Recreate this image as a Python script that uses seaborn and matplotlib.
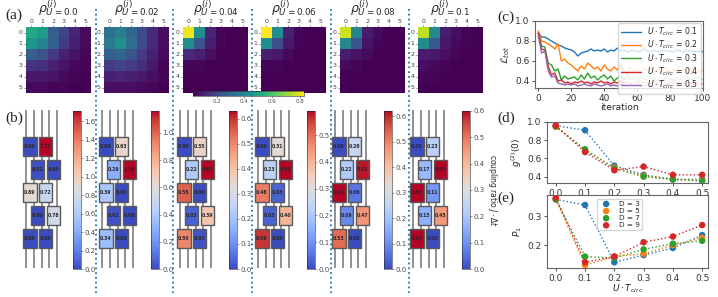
import numpy as np
import pandas as pd
import matplotlib
matplotlib.use('Agg')
import matplotlib.pyplot as plt
import matplotlib.colors as mcolors
import matplotlib.cm as cm
from matplotlib.lines import Line2D
from matplotlib.patches import Rectangle
import seaborn as sns

# ---------------- data ----------------
rho_labels = ['0.0', '0.02', '0.04', '0.06', '0.08', '0.1']

rho_0 = [[0.51, 0.47, 0.27, 0.19, 0.11, 0.05],
         [0.45, 0.39, 0.27, 0.17, 0.10, 0.05],
         [0.27, 0.23, 0.16, 0.10, 0.07, 0.04],
         [0.15, 0.14, 0.10, 0.07, 0.05, 0.04],
         [0.08, 0.08, 0.07, 0.05, 0.04, 0.03],
         [0.05, 0.05, 0.04, 0.04, 0.03, 0.03]]
rho_1 = [[0.33, 0.37, 0.29, 0.21, 0.12, 0.06],
         [0.36, 0.43, 0.31, 0.21, 0.12, 0.06],
         [0.27, 0.29, 0.24, 0.17, 0.10, 0.05],
         [0.17, 0.19, 0.17, 0.13, 0.08, 0.04],
         [0.10, 0.11, 0.10, 0.08, 0.06, 0.04],
         [0.06, 0.06, 0.06, 0.05, 0.04, 0.03]]
rho_2 = [[0.81, 0.42, 0.11, 0.04, 0.03, 0.03],
         [0.42, 0.24, 0.09, 0.04, 0.03, 0.03],
         [0.12, 0.10, 0.06, 0.03, 0.03, 0.03],
         [0.04, 0.04, 0.03, 0.03, 0.03, 0.03],
         [0.03, 0.03, 0.03, 0.03, 0.03, 0.03],
         [0.03, 0.03, 0.03, 0.03, 0.03, 0.03]]
rho_3 = [[0.83, 0.42, 0.10, 0.04, 0.03, 0.03],
         [0.42, 0.22, 0.08, 0.04, 0.03, 0.03],
         [0.10, 0.08, 0.05, 0.03, 0.03, 0.03],
         [0.04, 0.04, 0.03, 0.03, 0.03, 0.03],
         [0.03, 0.03, 0.03, 0.03, 0.03, 0.03],
         [0.03, 0.03, 0.03, 0.03, 0.03, 0.03]]
rho_4 = [[0.77, 0.40, 0.09, 0.05, 0.03, 0.03],
         [0.40, 0.24, 0.07, 0.04, 0.03, 0.03],
         [0.09, 0.07, 0.05, 0.03, 0.03, 0.03],
         [0.05, 0.04, 0.03, 0.03, 0.03, 0.03],
         [0.03, 0.03, 0.03, 0.03, 0.03, 0.03],
         [0.03, 0.03, 0.03, 0.03, 0.03, 0.03]]
rho_5 = [[0.75, 0.41, 0.09, 0.06, 0.04, 0.03],
         [0.41, 0.25, 0.08, 0.05, 0.04, 0.03],
         [0.09, 0.08, 0.06, 0.04, 0.03, 0.03],
         [0.06, 0.05, 0.04, 0.03, 0.03, 0.03],
         [0.04, 0.04, 0.03, 0.03, 0.03, 0.03],
         [0.03, 0.03, 0.03, 0.03, 0.03, 0.03]]
rho_maps = [rho_0, rho_1, rho_2, rho_3, rho_4, rho_5]

# coupling ratios, gate order: layer by layer, left gate then right gate
coupling_0 = [0.00, 1.71, 0.02, 0.00, 0.89, 0.72, 0.00, 0.78, 0.00, 0.00]
coupling_1 = [0.00, 0.63, 0.29, 1.16, 0.39, 0.00, 0.02, 0.00, 0.34, 0.00]
coupling_2 = [0.00, 0.35, 0.22, 0.63, 0.55, 0.00, 0.03, 0.39, 0.50, 0.01]
coupling_3 = [0.00, 0.31, 0.23, 0.59, 0.48, 0.03, 0.03, 0.40, 0.56, 0.00]
coupling_4 = [0.00, 0.26, 0.22, 0.61, 0.62, 0.06, 0.09, 0.47, 0.53, 0.00]
coupling_5 = [0.00, 0.23, 0.17, 0.60, 0.60, 0.11, 0.15, 0.45, 0.60, 0.00]
couplings = [coupling_0, coupling_1, coupling_2, coupling_3, coupling_4, coupling_5]

iterations = np.arange(0, 101, 2)
loss_labels = ['0.1', '0.2', '0.3', '0.4', '0.5']
loss_01 = [0.88, 0.84, 0.84, 0.82, 0.80, 0.78, 0.76, 0.75, 0.73, 0.72, 0.71, 0.69, 0.65, 0.68, 0.69,
           0.70, 0.72, 0.70, 0.71, 0.70, 0.72, 0.69, 0.71, 0.70, 0.73, 0.70, 0.71, 0.69, 0.70, 0.71,
           0.69, 0.70, 0.72, 0.70, 0.69, 0.71, 0.70, 0.69, 0.71, 0.70, 0.70, 0.69, 0.71, 0.70, 0.69,
           0.71, 0.70, 0.70, 0.69, 0.70, 0.69]
loss_02 = [0.90, 0.80, 0.79, 0.77, 0.75, 0.72, 0.77, 0.60, 0.62, 0.58, 0.56, 0.53, 0.50, 0.55, 0.52,
           0.58, 0.55, 0.52, 0.54, 0.50, 0.56, 0.52, 0.50, 0.54, 0.51, 0.56, 0.50, 0.46, 0.55, 0.50,
           0.52, 0.48, 0.53, 0.50, 0.55, 0.49, 0.52, 0.48, 0.51, 0.54, 0.49, 0.52, 0.48, 0.50, 0.53,
           0.49, 0.52, 0.47, 0.50, 0.49, 0.51]
loss_03 = [0.88, 0.75, 0.74, 0.58, 0.56, 0.50, 0.52, 0.41, 0.45, 0.42, 0.43, 0.44, 0.41, 0.46, 0.42,
           0.48, 0.43, 0.45, 0.41, 0.44, 0.46, 0.42, 0.45, 0.40, 0.43, 0.45, 0.42, 0.44, 0.41, 0.43,
           0.40, 0.44, 0.42, 0.41, 0.44, 0.42, 0.40, 0.43, 0.41, 0.44, 0.42, 0.40, 0.43, 0.41, 0.42,
           0.44, 0.41, 0.42, 0.44, 0.43, 0.41]
loss_04 = [0.88, 0.72, 0.71, 0.55, 0.46, 0.48, 0.40, 0.41, 0.38, 0.39, 0.37, 0.39, 0.38, 0.40, 0.38,
           0.39, 0.37, 0.39, 0.38, 0.40, 0.38, 0.39, 0.37, 0.39, 0.38, 0.40, 0.38, 0.39, 0.37, 0.39,
           0.38, 0.40, 0.38, 0.39, 0.37, 0.39, 0.38, 0.40, 0.38, 0.37, 0.39, 0.38, 0.39, 0.37, 0.38,
           0.39, 0.38, 0.37, 0.39, 0.38, 0.37]
loss_05 = [0.85, 0.68, 0.70, 0.50, 0.44, 0.45, 0.38, 0.37, 0.36, 0.37, 0.36, 0.37, 0.35, 0.36, 0.37,
           0.36, 0.35, 0.37, 0.36, 0.35, 0.36, 0.37, 0.35, 0.36, 0.35, 0.37, 0.36, 0.35, 0.36, 0.35,
           0.37, 0.36, 0.35, 0.36, 0.35, 0.36, 0.37, 0.35, 0.36, 0.35, 0.36, 0.35, 0.37, 0.36, 0.35,
           0.36, 0.35, 0.36, 0.37, 0.36, 0.37]
losses = [loss_01, loss_02, loss_03, loss_04, loss_05]

u_tcirc = [0.0, 0.1, 0.2, 0.3, 0.4, 0.5]
depth_labels = ['D = 3', 'D = 5', 'D = 7', 'D = 9']
g2_d3 = [0.96, 0.91, 0.52, 0.42, 0.37, 0.37]
g2_d5 = [0.95, 0.69, 0.50, 0.41, 0.37, 0.36]
g2_d7 = [0.95, 0.70, 0.49, 0.40, 0.37, 0.35]
g2_d9 = [0.96, 0.67, 0.47, 0.51, 0.42, 0.42]
p1_d3 = [0.360, 0.340, 0.140, 0.165, 0.190, 0.235]
p1_d5 = [0.360, 0.130, 0.160, 0.170, 0.200, 0.225]
p1_d7 = [0.360, 0.160, 0.155, 0.185, 0.205, 0.215]
p1_d9 = [0.365, 0.140, 0.160, 0.210, 0.230, 0.270]
g2_all = [g2_d3, g2_d5, g2_d7, g2_d9]
p1_all = [p1_d3, p1_d5, p1_d7, p1_d9]

# ---------------- layout helpers ----------------
W, H = 718, 297
sns.set_theme(style='ticks')
plt.rcParams['font.family'] = ['DejaVu Sans']
plt.rcParams['mathtext.fontset'] = 'dejavusans'

fig = plt.figure(figsize=(W / 100, H / 100), dpi=100)


def px_axes(x0, y0, x1, y1):
    return fig.add_axes([x0 / W, 1 - y1 / H, (x1 - x0) / W, (y1 - y0) / H])


tab = sns.color_palette('tab10')

# ---------------- (a) density matrices ----------------
heat_x = [26, 104, 183, 261, 340, 418]
for i, (m, lab) in enumerate(zip(rho_maps, rho_labels)):
    ax = px_axes(heat_x[i], 27, heat_x[i] + 65, 93)
    sns.heatmap(np.array(m), ax=ax, cmap='viridis', vmin=0.03, vmax=0.83, cbar=False,
                xticklabels=range(6), yticklabels=range(6))
    ax.xaxis.tick_top()
    ax.tick_params(labelsize=4.5, length=1.5, width=0.4, pad=1, colors='0.25')
    ax.set_yticklabels(range(6), rotation=0)
    ax.set_title(r'$\rho^{(i)}_{U=%s}$' % lab, fontsize=9, pad=4)

cax = px_axes(193, 91, 304, 96)
cb = fig.colorbar(cm.ScalarMappable(norm=mcolors.Normalize(0.03, 0.83), cmap='viridis'),
                  cax=cax, orientation='horizontal')
cb.set_ticks([0.2, 0.4, 0.6, 0.8])
cb.ax.tick_params(labelsize=4, length=1.5, width=0.4, pad=1, colors='0.3')
cb.outline.set_linewidth(0.4)

# ---------------- (b) circuits ----------------
wire_x = [26, 102, 180, 258, 335, 413]
cbar_x = [73, 151, 229, 307, 384, 462]
step = 7.8
for i, vals in enumerate(couplings):
    ax = px_axes(wire_x[i] - 6, 110, wire_x[i] + 4 * step + 6, 268)
    ax.set_xlim(-6 / step, 4 + 6 / step)
    ax.set_ylim(5.28, -1.59)
    ax.axis('off')
    vmax = max(vals)
    norm = mcolors.Normalize(0, vmax)
    ax.vlines(range(5), -1.59, 5.28, color='0.45', lw=1.1, zorder=1)
    for k, v in enumerate(vals):
        row = k // 2
        left = 2 * (k % 2) + (row % 2)
        ax.add_patch(Rectangle((left - 0.35, row - 0.42), 1.7, 0.84,
                               facecolor=plt.get_cmap('coolwarm')(norm(v)),
                               edgecolor='0.35', lw=1.0, zorder=2))
        ax.text(left + 0.5, row, '%.2f' % v, fontsize=3.3, fontweight='bold',
                ha='center', va='center', zorder=3)
    cax = px_axes(cbar_x[i], 111, cbar_x[i] + 8, 269)
    cb = fig.colorbar(cm.ScalarMappable(norm=norm, cmap='coolwarm'), cax=cax)
    cb.ax.tick_params(labelsize=5, length=1.5, width=0.4, pad=1, colors='0.3')
    cb.outline.set_linewidth(0.4)
    if i == len(couplings) - 1:
        cb.set_label(r'coupling ratio $J\cdot\Delta t$', rotation=270, labelpad=10, fontsize=5.5)

# separators
for xs in [96, 173, 252, 331, 409]:
    fig.add_artist(Line2D([xs / W, xs / W], [1 - 9 / H, 1 - 293 / H], transform=fig.transFigure,
                          ls=':', color='#1f77b4', lw=1.3))

# ---------------- (c) loss curves ----------------
axc = px_axes(535, 21, 703, 88)
for j, (lv, lab) in enumerate(zip(losses, loss_labels)):
    df = pd.DataFrame({'iteration': iterations, 'loss': lv})
    if j == 0:
        sns.lineplot(data=df, x='iteration', y='loss', ax=axc, color=tab[j], lw=1.0,
                     label=r'$U\cdot T_{circ}$ = ' + lab)
    else:
        first = df[df.iteration <= 52]
        rest = df[df.iteration >= 52]
        sns.lineplot(data=first, x='iteration', y='loss', ax=axc, color=tab[j], lw=1.0,
                     label=r'$U\cdot T_{circ}$ = ' + lab)
        sns.lineplot(data=rest, x='iteration', y='loss', ax=axc, color=tab[j], lw=1.0,
                     alpha=0.5, legend=False)
axc.set_xlim(-2, 100)
axc.set_ylim(0.33, 1.0)
axc.set_yticks([0.4, 0.6, 0.8, 1.0])
axc.set_xticks([0, 20, 40, 60, 80, 100])
axc.set_xlabel('iteration', fontsize=6.5, labelpad=0)
axc.set_ylabel(r'$\mathcal{L}_{tot}$', fontsize=7, labelpad=2)
axc.legend(loc='upper right', fontsize=5.6, handlelength=2.6, borderpad=0.3,
           labelspacing=0.1, frameon=True, edgecolor='0.8', borderaxespad=0.3)

# ---------------- (d) g2 and (e) P1 ----------------
axd = px_axes(547, 122, 708, 183)
axe = px_axes(547, 195, 708, 268)
for j, lab in enumerate(depth_labels):
    df = pd.DataFrame({'u': u_tcirc, 'g2': g2_all[j], 'p1': p1_all[j]})
    sns.lineplot(data=df, x='u', y='g2', ax=axd, color=tab[j], lw=1.0, ls=':', legend=False)
    sns.scatterplot(data=df, x='u', y='g2', ax=axd, color=tab[j], s=22, edgecolor='none', zorder=3)
    sns.lineplot(data=df, x='u', y='p1', ax=axe, color=tab[j], lw=1.0, ls=':', legend=False)
    sns.scatterplot(data=df, x='u', y='p1', ax=axe, color=tab[j], s=22, edgecolor='none',
                    label=lab, zorder=3)
axd.set_ylim(0.33, 1.0)
axd.set_yticks([0.4, 0.6, 0.8, 1.0])
axd.set_xlabel('')
axd.set_ylabel(r'$g^{(2)}(0)$', fontsize=6.5, labelpad=2)
axe.set_ylim(0.12, 0.375)
axe.set_yticks([0.2, 0.3])
axe.set_ylabel(r'$P_1$', fontsize=6.5, labelpad=2)
axe.set_xlabel(r'$U\cdot T_{circ}$', fontsize=6.5, labelpad=0)
axe.legend(loc='upper center', bbox_to_anchor=(0.45, 1.0), fontsize=5.2, handletextpad=0.8,
           borderpad=0.3, labelspacing=0.15, frameon=True, edgecolor='0.8')

for ax in [axc, axd, axe]:
    ax.tick_params(labelsize=6.5, length=2.5, width=0.6, pad=1.5, colors='0.2')
    for s in ax.spines.values():
        s.set_visible(True)
        s.set_color('0.4')
        s.set_linewidth(0.8)
for ax in [axd, axe]:
    ax.set_xticks(u_tcirc)
    ax.set_xlim(-0.03, 0.52)

# ---------------- panel labels ----------------
serif = ['Liberation Serif', 'DejaVu Serif']
for txt, x, y in [('(a)', 5, 15), ('(b)', 5, 118), ('(c)', 497, 17), ('(d)', 497, 118), ('(e)', 497, 198)]:
    fig.text(x / W, 1 - y / H, txt, fontsize=11, family=serif, va='center', ha='left')

fig.savefig('out.png', dpi=100)
